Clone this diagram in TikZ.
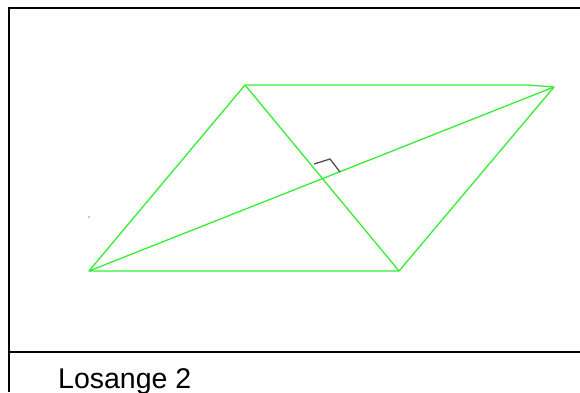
\documentclass[tikz,border=0pt]{standalone}
\usepackage{fontspec}
\setmainfont{Liberation Sans}
\usetikzlibrary{positioning}
\definecolor{edge}{HTML}{33EE33}
\definecolor{frame}{HTML}{000000}
\definecolor{mark}{HTML}{505050}
\definecolor{speck}{HTML}{FF9999}
\tikzset{
  frameline/.style = {draw=frame, line width=2.8pt},
  side/.style      = {draw=edge, line width=1.3pt, line join=round},
  diag/.style      = {draw=edge, line width=1.3pt},
  rightmark/.style = {draw=mark, line width=1.3pt},
  caption/.style   = {anchor=base west, inner sep=0pt, font=\fontsize{28.5}{34}\selectfont},
}
\begin{document}
\begin{tikzpicture}[x=1pt, y=-1pt]
\useasboundingbox (0,0) rectangle (580,392);

% frame
\coordinate (f1) at (9,392);
\coordinate (f2) at (9,8);
\coordinate (f3) at (580,8);
\coordinate (s1) at (9,352);
\coordinate (s2) at (580,352);
\draw[frameline] (f1) -- (f2) -- (f3);
\draw[frameline] (s1) -- (s2);

% rhombus
\coordinate (A) at (245,85);
\coordinate (Ab) at (528,85);
\coordinate (B) at (554,87);
\coordinate (C) at (399,271);
\coordinate (D) at (89,271);
\draw[side] (A) -- (Ab) -- (B) -- (C) -- (D) -- cycle;
\draw[diag] (A) -- (C);
\draw[diag] (D) -- (B);

% right angle
\coordinate (r1) at (314,164);
\coordinate (r2) at (330,159);
\coordinate (r3) at (340,172);
\draw[rightmark] (r1) -- (r2) -- (r3);

\fill[speck] (89,217) circle (1.2pt);

\node[caption] (title) at (58,388) {Losange 2};

\end{tikzpicture}
\end{document}
